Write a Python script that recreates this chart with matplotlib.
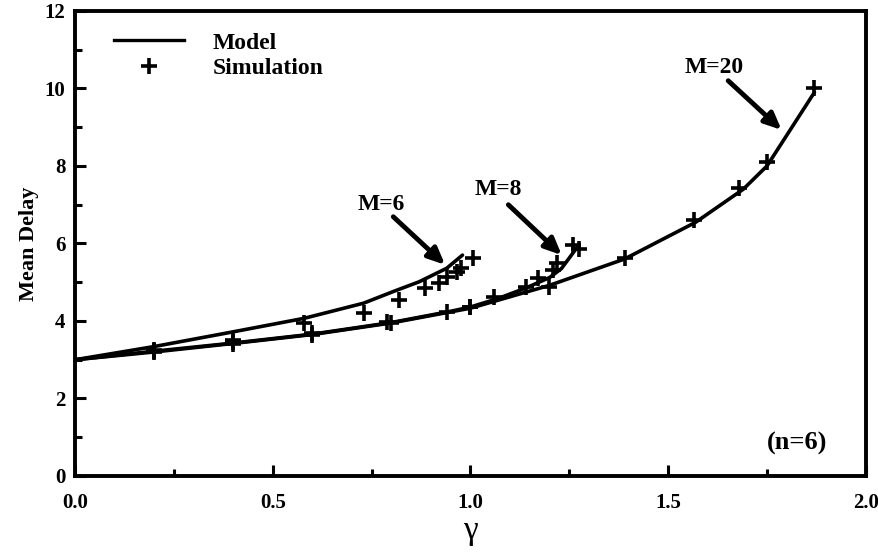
import matplotlib
matplotlib.use("Agg")
import matplotlib.pyplot as plt
from matplotlib.lines import Line2D
from matplotlib.ticker import MultipleLocator, FormatStrFormatter

plt.rcParams['font.family'] = ['Liberation Serif', 'DejaVu Serif']

# Model curves
m6_x = [0.0, 0.2, 0.4, 0.58, 0.73, 0.81, 0.87, 0.94, 0.98]
m6_y = [3.0, 3.34, 3.72, 4.07, 4.46, 4.78, 5.01, 5.36, 5.70]
m8_x = [0.0, 0.2, 0.4, 0.6, 0.8, 0.95, 1.0, 1.07, 1.14, 1.2, 1.23, 1.27]
m8_y = [3.0, 3.22, 3.43, 3.66, 3.96, 4.25, 4.36, 4.58, 4.85, 5.12, 5.35, 5.90]
m20_x = [0.0, 0.2, 0.4, 0.6, 0.8, 1.0, 1.2, 1.39, 1.57, 1.69, 1.75, 1.87]
m20_y = [3.0, 3.2, 3.42, 3.65, 3.95, 4.33, 4.92, 5.60, 6.55, 7.40, 8.00, 9.90]

# Simulation points
s6_x = [0.2, 0.4, 0.58, 0.73, 0.82, 0.885, 0.92, 0.94, 0.965, 0.977, 1.007]
s6_y = [3.25, 3.52, 3.94, 4.20, 4.54, 4.84, 4.97, 5.14, 5.27, 5.36, 5.62]
s8_x = [0.2, 0.4, 0.6, 0.79, 0.94, 1.0, 1.06, 1.14, 1.17, 1.21, 1.22, 1.26, 1.275]
s8_y = [3.22, 3.45, 3.68, 3.97, 4.24, 4.37, 4.63, 4.88, 5.10, 5.32, 5.49, 5.96, 5.87]
s20_x = [0.2, 0.4, 0.6, 0.8, 1.0, 1.2, 1.39, 1.565, 1.68, 1.75, 1.87]
s20_y = [3.20, 3.40, 3.65, 3.94, 4.35, 4.88, 5.62, 6.61, 7.42, 8.11, 10.0]

# Annotations: label, text position, arrow start, arrow tip
ann_labels = ["M=6", "M=8", "M=20"]
ann_text = [(0.774, 7.0), (1.07, 7.4), (1.616, 10.55)]
ann_tail = [(0.805, 6.69), (1.096, 7.0), (1.652, 10.2)]
ann_tip = [(0.936, 5.45), (1.231, 5.70), (1.787, 8.93)]

fig = plt.figure(figsize=(8.79, 5.52), dpi=100)
ax = fig.add_axes([0.0853, 0.1377, 0.8997, 0.8424])

lw = 2.6
for x, y in [(m6_x, m6_y), (m8_x, m8_y), (m20_x, m20_y)]:
    ax.plot(x, y, color='black', lw=lw, solid_capstyle='round')
for x, y in [(s6_x, s6_y), (s8_x, s8_y), (s20_x, s20_y)]:
    ax.plot(x, y, linestyle='none', marker='+', color='black',
            markersize=12, markeredgewidth=2.6)

for lab, tp, tl, tip in zip(ann_labels, ann_text, ann_tail, ann_tip):
    ax.text(tp[0], tp[1], lab, ha='center', va='center',
            fontsize=17, fontweight='bold')
    ax.annotate('', xy=tip, xytext=tl,
                arrowprops=dict(arrowstyle='-|>,head_length=1.0,head_width=0.45',
                                color='black', lw=3.5, shrinkA=0, shrinkB=0))

ax.text(1.825, 0.85, '(n=6)', ha='center', va='center',
        fontsize=19, fontweight='bold')

ax.set_xlim(0, 2.0)
ax.set_ylim(0, 12)
ax.xaxis.set_major_locator(MultipleLocator(0.5))
ax.xaxis.set_minor_locator(MultipleLocator(0.25))
ax.yaxis.set_major_locator(MultipleLocator(2))
ax.yaxis.set_minor_locator(MultipleLocator(1))
ax.xaxis.set_major_formatter(FormatStrFormatter('%.1f'))
ax.yaxis.set_major_formatter(FormatStrFormatter('%d'))
ax.tick_params(which='both', direction='in', top=False, right=False,
               width=2.2, labelsize=15)
ax.tick_params(which='major', length=8)
ax.tick_params(which='minor', length=5)
for lab in ax.get_xticklabels() + ax.get_yticklabels():
    lab.set_fontweight('bold')
ax.tick_params(axis='x', pad=12)
ax.tick_params(axis='y', pad=7)
for s in ax.spines.values():
    s.set_linewidth(2.8)

ax.set_ylabel('Mean Delay', fontsize=16, fontweight='bold', labelpad=4)
ax.set_xlabel('γ', fontsize=24, labelpad=2)

handles = [Line2D([], [], color='black', lw=2.4),
           Line2D([], [], color='black', linestyle='none', marker='+',
                  markersize=12, markeredgewidth=2.6)]
leg = ax.legend(handles, ['Model', 'Simulation'], loc='upper left',
                bbox_to_anchor=(0.022, 1.0), frameon=False, fontsize=17,
                handlelength=3.0, handletextpad=1.2, labelspacing=0.15)
for t in leg.get_texts():
    t.set_fontweight('bold')

fig.savefig('out.png', dpi=100)
